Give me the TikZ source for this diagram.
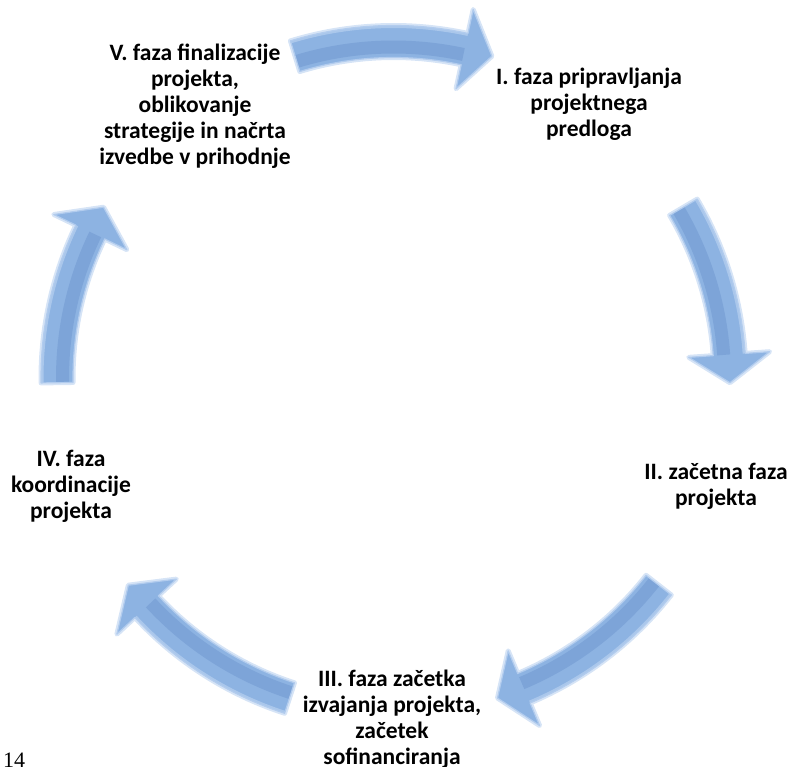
\documentclass[tikz,border=0pt]{standalone}
\usepackage{fontspec}
\setmainfont{Carlito}
\newfontfamily\pagenumfont{Liberation Serif}
\usetikzlibrary{calc}

\definecolor{arrowmid}{RGB}{141,179,226}
\definecolor{arrowdark}{RGB}{112,152,208}
\definecolor{arrowedge}{RGB}{178,204,238}
\definecolor{arrowglow}{RGB}{214,228,246}

\tikzset{
  phase/.style={align=center, inner sep=0pt,
    font=\fontsize{23.5}{26}\selectfont\bfseries},
  pagenum/.style={anchor=base west, inner sep=0pt,
    font=\pagenumfont\fontsize{22}{24}\selectfont},
}

% outline of one curved block arrow on the ring around C:
% #1 = angle of the tail, #2 = angle of the tip
\newcommand{\ringarrowpath}[2]{%
  ($(C)+(#1:352.5)$) arc[start angle=#1, end angle=#2+4.8, radius=352.5]
  -- ($(C)+(#2+4.8:377)$)
  -- ($(C)+(#2:336.5)$)
  -- ($(C)+(#2+4.8:296)$)
  -- ($(C)+(#2+4.8:320.5)$) arc[start angle=#2+4.8, end angle=#1, radius=320.5]
  -- cycle}

\newcommand{\ringarrow}[2]{%
  \path[draw=arrowglow, line width=5pt, line join=round] \ringarrowpath{#1}{#2};
  \path[fill=arrowmid] \ringarrowpath{#1}{#2};
  \begin{scope}
    \clip \ringarrowpath{#1}{#2};
    \draw[arrowdark, line width=13pt, opacity=0.55]
      ($(C)+(#1:331)$) arc[start angle=#1, end angle=#2+4.8, radius=331];
    \draw[arrowedge, line width=5pt, opacity=0.8]
      ($(C)+(#1:352.5)$) arc[start angle=#1, end angle=#2+4.8, radius=352.5];
  \end{scope}
  \path[draw=arrowedge, line width=1.2pt, line join=round] \ringarrowpath{#1}{#2};
}

\begin{document}
\begin{tikzpicture}[x=1pt, y=1pt]
  \useasboundingbox (0,-767) rectangle (792,0);
  \coordinate (C) at (393.5,-378);

  % the five arrows of the cycle, clockwise
  \ringarrow{107}{73}
  \ringarrow{30.5}{-0.8}
  \ringarrow{-38}{-72}
  \ringarrow{-108}{-142}
  \ringarrow{180.8}{149.5}

  % phase labels
  \node[phase] (p1) at (589,-104) {I. faza pripravljanja\\projektnega\\predloga};
  \node[phase] (p2) at (716,-486) {II. začetna faza\\projekta};
  \node[phase] (p3) at (392,-719) {III. faza začetka\\izvajanja projekta,\\začetek\\sofinanciranja};
  \node[phase] (p4) at (71,-486) {IV. faza\\koordinacije\\projekta};
  \node[phase] (p5) at (195,-106) {V. faza finalizacije\\projekta,\\oblikovanje\\strategije in načrta\\izvedbe v prihodnje};

  \node[pagenum] (pg) at (3,-767) {14};
\end{tikzpicture}
\end{document}
